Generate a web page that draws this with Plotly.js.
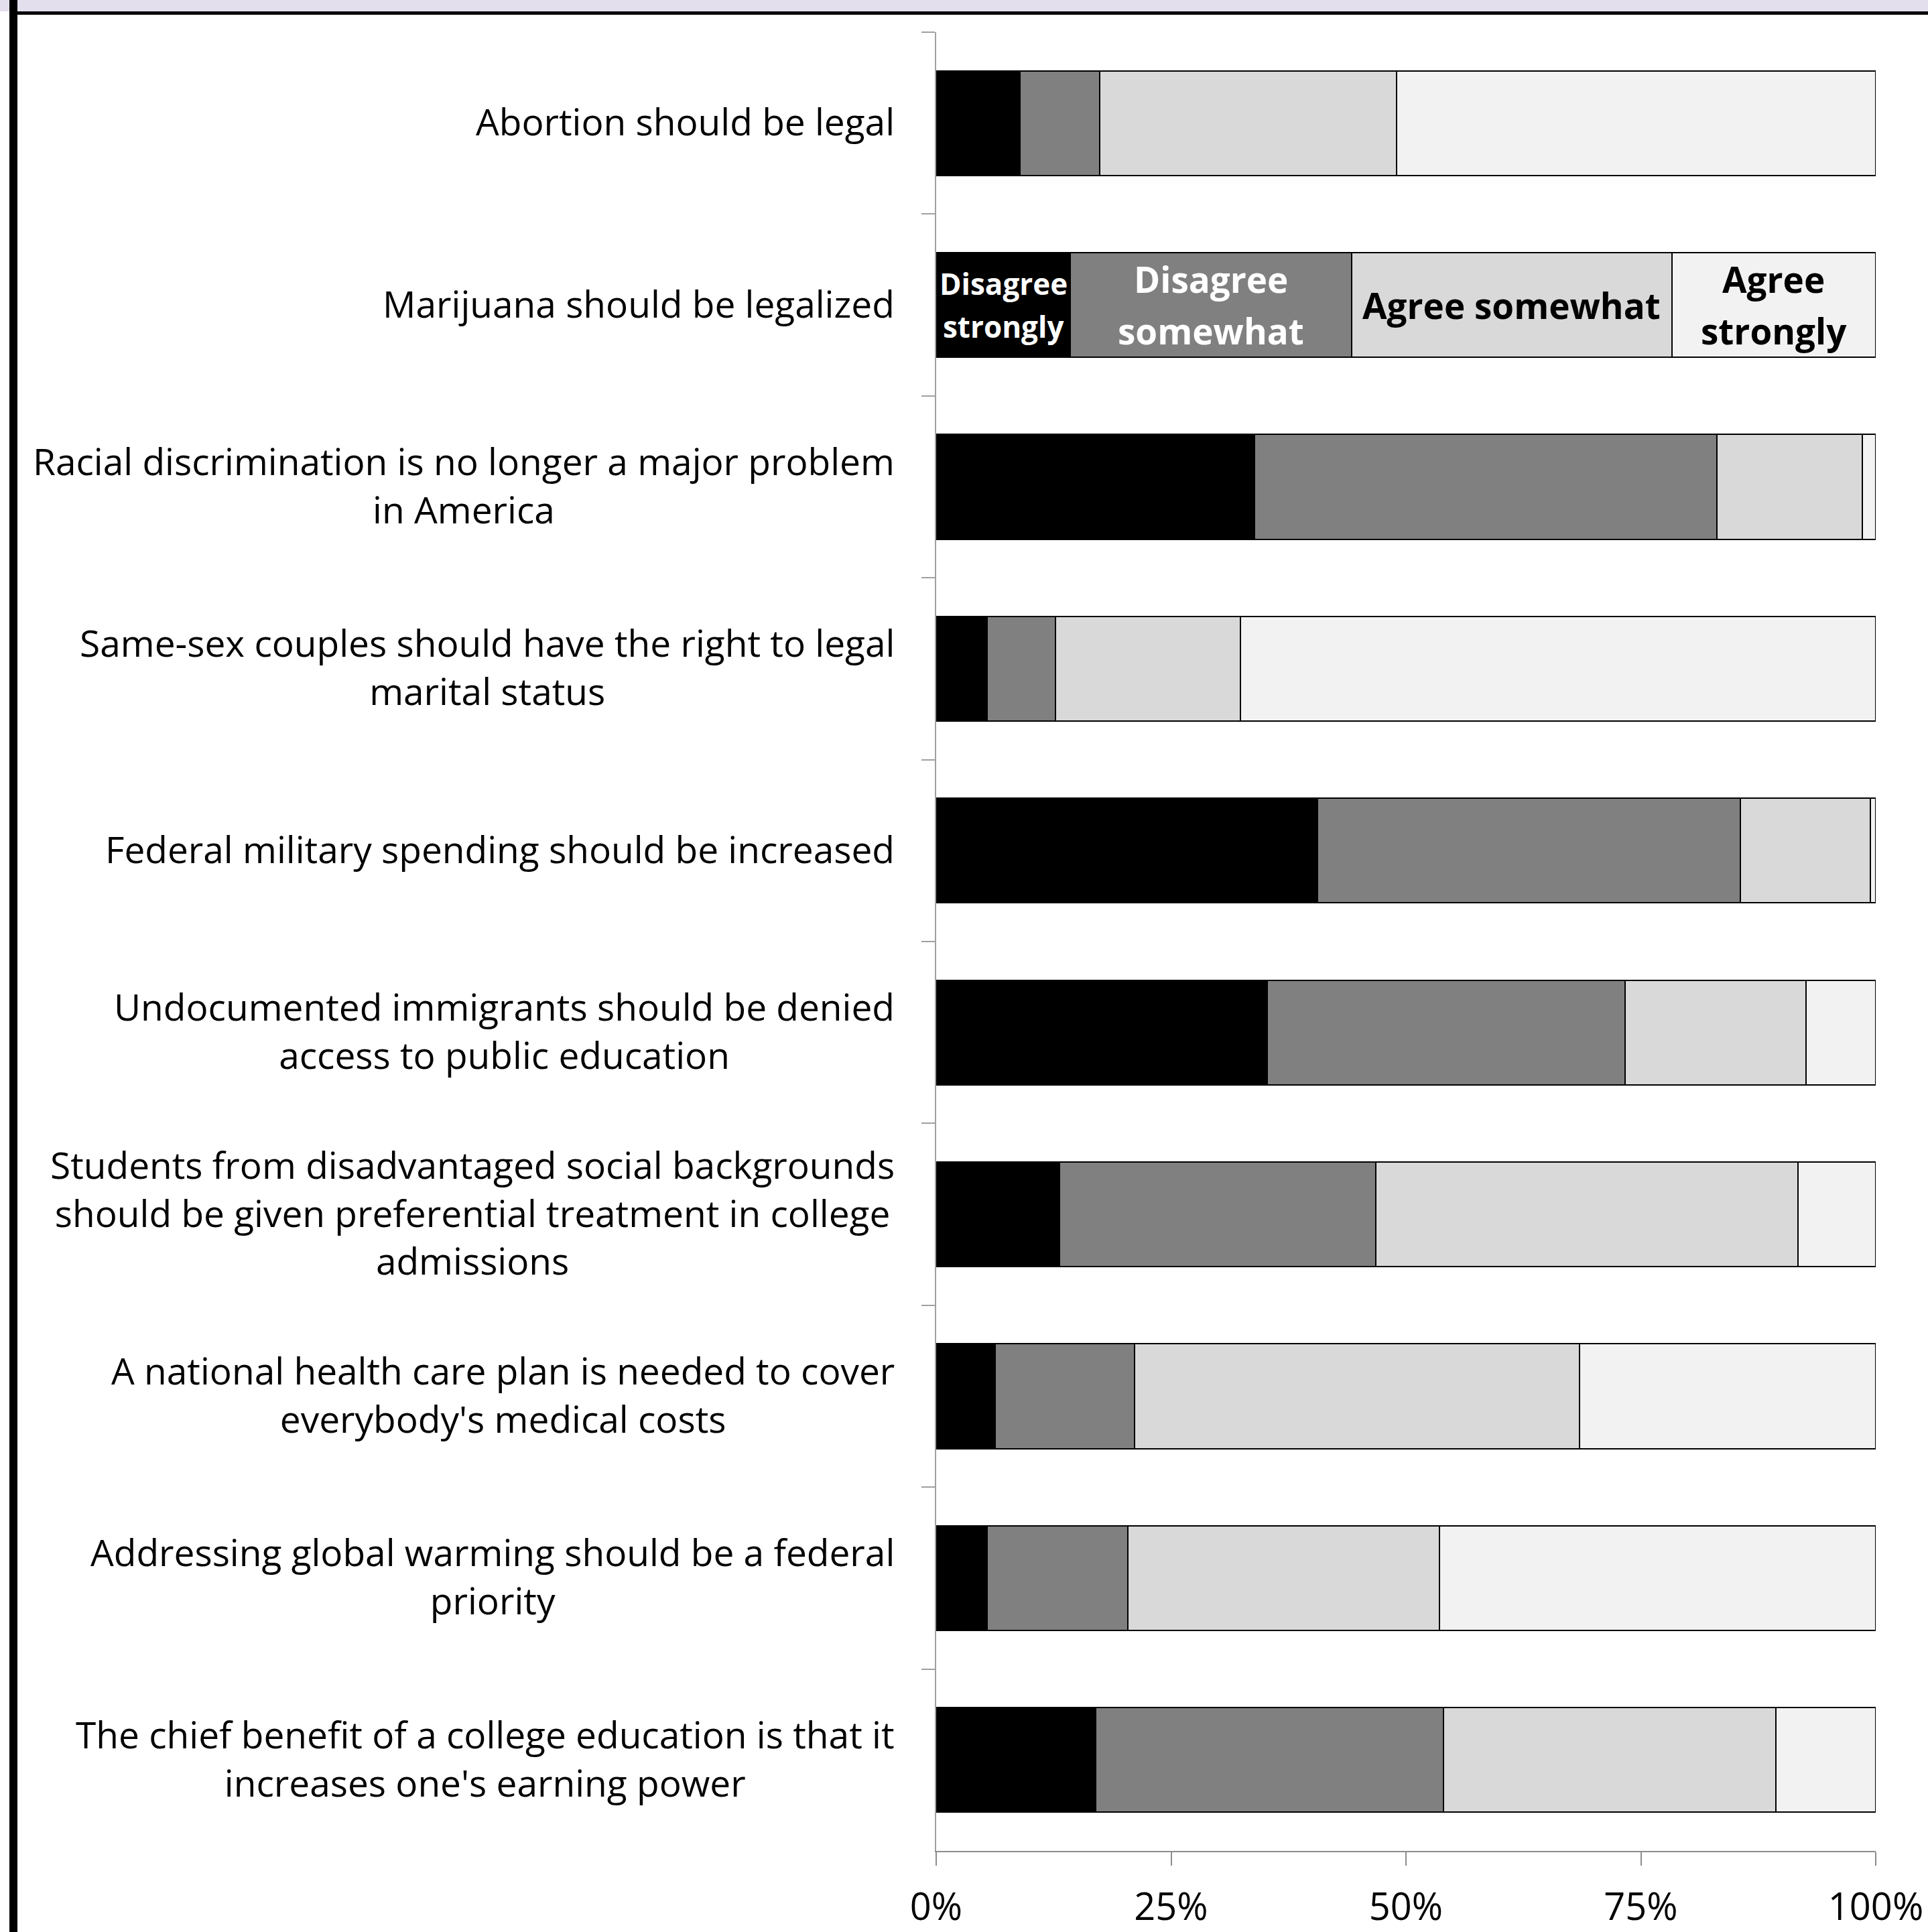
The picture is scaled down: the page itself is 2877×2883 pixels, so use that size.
<!DOCTYPE html>
<html>
<head>
<meta charset="utf-8">
<script src="https://cdn.plot.ly/plotly-3.0.1.min.js"></script>
<style>
html,body{margin:0;padding:0;background:#fff;}
#chart{width:2877px;height:2883px;}
</style>
</head>
<body>
<div id="chart"></div>
<script>
// ---- Data ----
var statements = [
  "Abortion should be legal",
  "Marijuana should be legalized",
  "Racial discrimination is no longer a major problem<br>in America",
  "Same-sex couples should have the right to legal<br>marital status",
  "Federal military spending should be increased",
  "Undocumented immigrants should be denied<br>access to public education",
  "Students from disadvantaged social backgrounds<br>should be given preferential treatment in college<br>admissions",
  "A national health care plan is needed to cover<br>everybody's medical costs",
  "Addressing global warming should be a federal<br>priority",
  "The chief benefit of a college education is that it<br>increases one's earning power"
];
var seriesNames = ["Disagree strongly", "Disagree somewhat", "Agree somewhat", "Agree strongly"];
var disagreeStrongly = [8.9, 14.3, 33.9, 5.4, 40.6, 35.2, 13.1, 6.3, 5.4, 17.0];
var disagreeSomewhat = [8.5, 29.9, 49.2, 7.3, 45.0, 38.1, 33.7, 14.8, 15.0, 37.0];
var agreeSomewhat    = [31.6, 34.1, 15.5, 19.7, 13.8, 19.3, 44.9, 47.4, 33.2, 35.4];
var agreeStrongly    = [51.0, 21.7, 1.4, 67.6, 0.6, 7.4, 8.3, 31.5, 46.4, 10.6];
var tickVals = [0, 25, 50, 75, 100];
var tickText = ["0%", "25%", "50%", "75%", "100%"];
var labelledRow = 1; // row carrying the in-bar legend labels
var segLabels = [["Disagree", "strongly"], ["Disagree", "somewhat"], ["Agree somewhat"], ["Agree", "strongly"]];

// ---- Styles ----
var colors = ["#000000", "#808080", "#D9D9D9", "#F2F2F2"];
var segLabelColors = ["#FFFFFF", "#FFFFFF", "#000000", "#000000"];
var segLabelSizes = [44, 53, 53, 53];
var segLineGaps = [64, 77, 77, 77];
var FONT = "Open Sans, Noto Sans, sans-serif";

var W = 2877, H = 2883;
var mL = 1397, mR = 78, mT = 48, mB = 121;
var pw = W - mL - mR, ph = H - mT - mB;
function px2x(p){ return (p - mL) / pw; }
function px2y(p){ return (H - mB - p) / ph; }

var allSeries = [disagreeStrongly, disagreeSomewhat, agreeSomewhat, agreeStrongly];
var ids = statements.map(function(s, i){ return "c" + i; });

var traces = allSeries.map(function(vals, k){
  return {
    type: "bar",
    orientation: "h",
    name: seriesNames[k],
    x: vals,
    y: ids,
    marker: {color: colors[k], line: {color: "#000000", width: 2}},
    hoverinfo: "skip"
  };
});

var annotations = [];
// category labels (centered multi-line blocks, right-aligned to axis)
statements.forEach(function(s, i){
  annotations.push({
    xref: "paper", yref: "y",
    x: 0, y: ids[i],
    xanchor: "right", yanchor: "middle",
    xshift: -60, yshift: 3,
    align: "center",
    text: s,
    showarrow: false,
    font: {family: FONT, size: 55, color: "#000000"}
  });
});
// in-bar labels on the labelled row, one annotation per line
var cum = 0;
allSeries.forEach(function(vals, k){
  var v = vals[labelledRow];
  var lines = segLabels[k];
  lines.forEach(function(line, j){
    annotations.push({
      xref: "x", yref: "y",
      x: cum + v / 2, y: ids[labelledRow],
      xanchor: "center", yanchor: "middle",
      yshift: ((lines.length - 1) / 2 - j) * segLineGaps[k],
      text: "<b>" + line + "</b>",
      showarrow: false,
      font: {family: FONT, size: segLabelSizes[k], color: segLabelColors[k]}
    });
  });
  cum += v;
});

var shapes = [
  {type: "rect", xref: "paper", yref: "paper", x0: px2x(0), x1: px2x(W), y0: px2y(0), y1: px2y(17),
   fillcolor: "#E4DFEC", line: {width: 0}, layer: "above"},
  {type: "rect", xref: "paper", yref: "paper", x0: px2x(14), x1: px2x(W), y0: px2y(17), y1: px2y(22),
   fillcolor: "#000000", line: {width: 0}, layer: "above"},
  {type: "rect", xref: "paper", yref: "paper", x0: px2x(14), x1: px2x(26), y0: px2y(0), y1: px2y(H),
   fillcolor: "#000000", line: {width: 0}, layer: "above"}
];

var layout = {
  width: W, height: H,
  margin: {l: mL, r: mR, t: mT, b: mB, pad: 0},
  paper_bgcolor: "#FFFFFF",
  plot_bgcolor: "#FFFFFF",
  barmode: "stack",
  bargap: 0.425,
  showlegend: false,
  xaxis: {
    range: [0, 100],
    tickvals: tickVals,
    ticktext: tickText,
    ticks: "outside", ticklen: 20, tickwidth: 2, tickcolor: "#8C8C8C",
    showline: true, linecolor: "#8C8C8C", linewidth: 2,
    showgrid: false, zeroline: false,
    tickfont: {family: FONT, size: 56, color: "#000000"},
    ticklabelstandoff: 14,
    fixedrange: true
  },
  yaxis: {
    type: "category",
    categoryorder: "array", categoryarray: ids,
    autorange: "reversed",
    tickson: "boundaries",
    ticks: "outside", ticklen: 20, tickwidth: 2, tickcolor: "#A0A0A0",
    showline: true, linecolor: "#A0A0A0", linewidth: 2,
    showgrid: false, zeroline: false,
    showticklabels: false,
    fixedrange: true
  },
  annotations: annotations,
  shapes: shapes,
  font: {family: FONT, color: "#000000"}
};

Plotly.newPlot("chart", traces, layout, {displayModeBar: false, staticPlot: true});
</script>
</body>
</html>
